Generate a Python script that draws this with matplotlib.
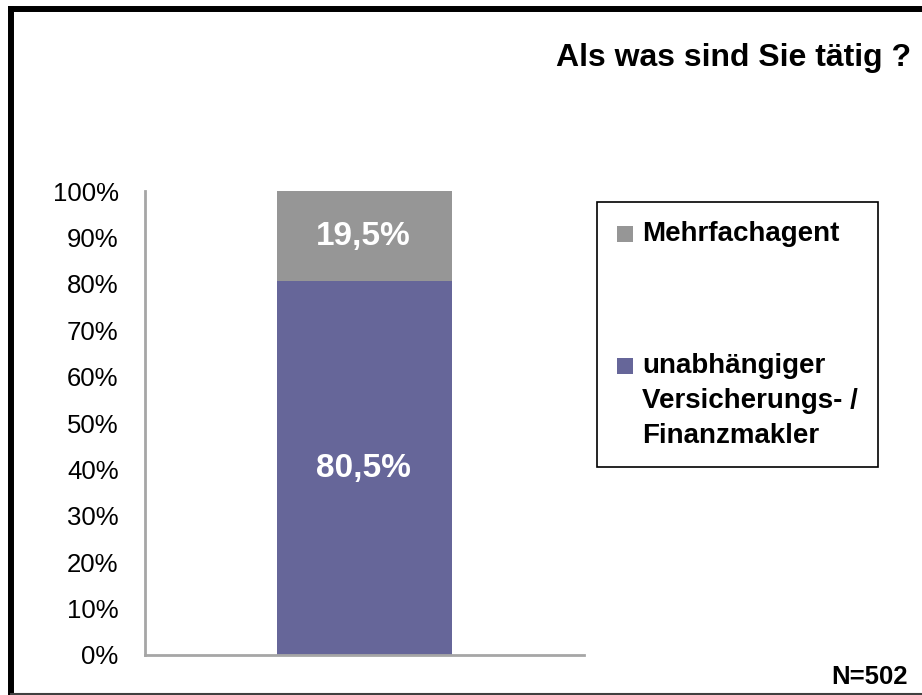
import matplotlib.pyplot as plt
from matplotlib.patches import Rectangle
from matplotlib.lines import Line2D

plt.rcParams['font.family'] = ['Liberation Sans', 'DejaVu Sans']

categories = ['']
labels = ['unabhängiger\nVersicherungs- /\nFinanzmakler', 'Mehrfachagent']
values = [80.5, 19.5]
colors = ['#666699', '#969696']
ticks = list(range(0, 101, 10))
tick_labels = [str(t) + '%' for t in ticks]

W, H = 922, 695
fig = plt.figure(figsize=(W / 100, H / 100), dpi=100)
ax = fig.add_axes([145 / W, 1 - 655 / H, 439 / W, 464 / H])

def fx(px):
    return px / W

def fy(py):
    return 1 - py / H

bottom = 0
for v, c, lab in zip(values, colors, labels):
    ax.bar(0, v, width=0.4, bottom=bottom, color=c, label=lab)
    ax.text(-0.003, bottom + v / 2, ('%.1f' % v).replace('.', ',') + '%',
            ha='center', va='center', color='white', fontsize=24, fontweight='bold')
    bottom += v

ax.set_xlim(-0.5, 0.5)
ax.set_ylim(0, 100)
ax.set_yticks(ticks)
ax.set_yticklabels(tick_labels, fontsize=18.5)
ax.set_xticks([])
ax.tick_params(axis='y', length=0, pad=19)
for s in ['top', 'right']:
    ax.spines[s].set_visible(False)
for s in ['left', 'bottom']:
    ax.spines[s].set_color('#a6a6a6')
    ax.spines[s].set_linewidth(2)

# legend drawn by hand so the marker sits on the first line of each label
fig.add_artist(Rectangle((fx(597), fy(467)), fx(878) - fx(597), fy(202) - fy(467),
                         transform=fig.transFigure, fill=False, edgecolor='black', lw=1.2))
leg_rows = [(1, 234), (0, 366)]
for i, y in leg_rows:
    fig.add_artist(Rectangle((fx(617), fy(y + 8)), 16 / W, 16 / H,
                             transform=fig.transFigure, color=colors[i], lw=0))
    fig.text(fx(642), fy(y - 13), labels[i], ha='left', va='top', fontsize=20,
             fontweight='bold', linespacing=1.45)

fig.text(fx(911), fy(66), 'Als was sind Sie tätig ?', ha='right', va='baseline',
         fontsize=23, fontweight='bold')
fig.text(fx(908), fy(684), 'N=502', ha='right', va='baseline',
         fontsize=18.5, fontweight='bold')

# frame
fig.add_artist(Line2D([fx(8), 1], [fy(9), fy(9)], color='black', lw=4.3, solid_capstyle='butt'))
fig.add_artist(Line2D([fx(11), fx(11)], [fy(6), 0], color='black', lw=4.3, solid_capstyle='butt'))
fig.add_artist(Line2D([fx(11), 1], [fy(693.5), fy(693.5)], color='#404040', lw=1.5))

fig.savefig('out.png', dpi=100)
